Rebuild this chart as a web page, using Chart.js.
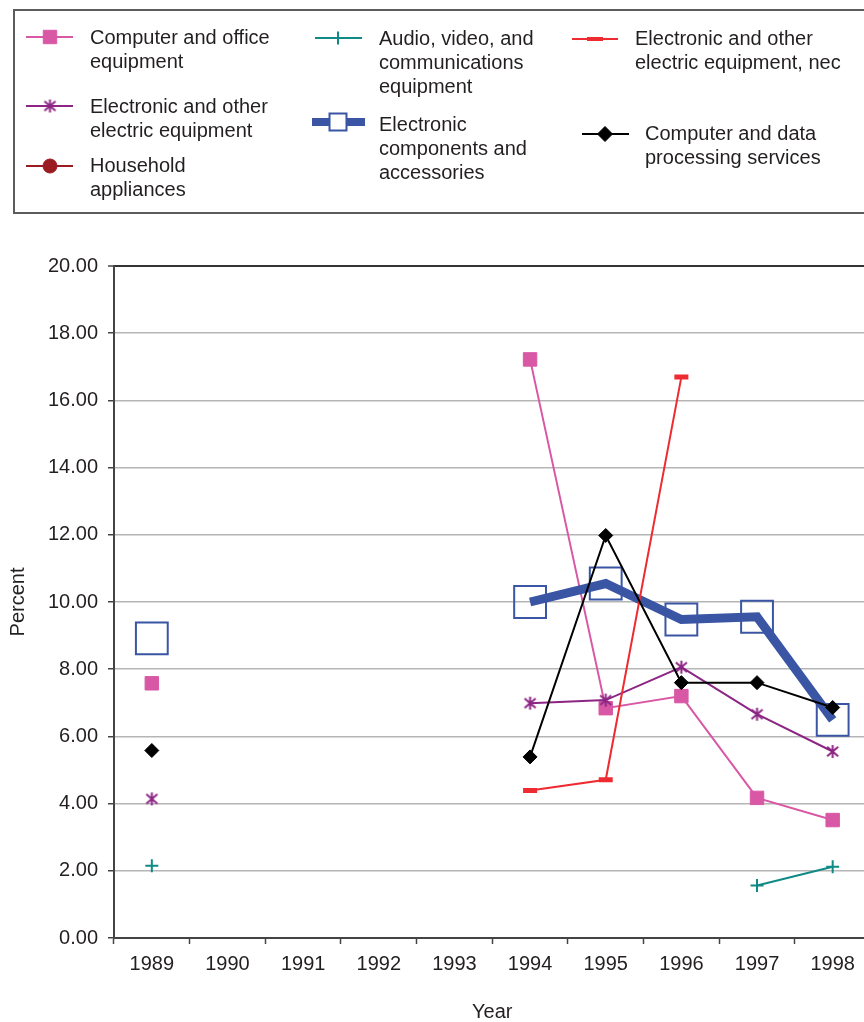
<!DOCTYPE html>
<html>
<head>
<meta charset="utf-8">
<script src="https://cdn.jsdelivr.net/npm/chart.js@4/dist/chart.umd.min.js"></script>
<style>
  html, body { margin: 0; padding: 0; background: #fff; overflow: hidden; width: 864px; height: 1022px; }
  #wrap { position: absolute; left: 0; top: 0; width: 895px; height: 1022px; }
  #legendBox { position: absolute; left: 13px; top: 9px; width: 900px; height: 205px;
               border: 2px solid #5c5c5c; box-sizing: border-box; }
  .lgText { position: absolute; font-family: "Liberation Sans", Arial, sans-serif; font-size: 20px;
            line-height: 24px; color: #231f20; white-space: nowrap; }
  .lgSym { position: absolute; }
</style>
</head>
<body>
<div id="wrap"><canvas id="chart" width="895" height="1022"></canvas></div>
<div id="legendBox"></div>
<div id="legend"></div>
<script>
// Years on the category axis
const years = ['1989', '1990', '1991', '1992', '1993', '1994', '1995', '1996', '1997', '1998'];

// Percent values per industry (null = no value for that year)
const computerOffice   = [7.58, null, null, null, null, 17.22, 6.84, 7.20, 4.17, 3.51];
const electronicOther  = [4.14, null, null, null, null, 6.99, 7.08, 8.06, 6.66, 5.55];
const household        = [null, null, null, null, null, null, null, null, null, null];
const audioVideo       = [2.15, null, null, null, null, null, null, null, 1.56, 2.12];
const components       = [8.92, null, null, null, null, 10.00, 10.55, 9.48, 9.56, 6.49];
const electricNec      = [null, null, null, null, null, 4.39, 4.71, 16.70, null, null];
const dataProcessing   = [5.58, null, null, null, null, 5.39, 11.98, 7.60, 7.60, 6.86];

// Y axis range and tick step
const yMin = 0, yMax = 20, yStep = 2;

const FONT = '"Liberation Sans", Arial, sans-serif';
const TEXT = '#231f20';
const AXIS = '#444444';

// Asterisk marker (vertical stroke plus an X)
function makeAsterisk(color, size, lw) {
  const c = document.createElement('canvas');
  c.width = size; c.height = size;
  const g = c.getContext('2d');
  const m = size / 2, r = size / 2 - 1;
  g.strokeStyle = color; g.lineWidth = lw; g.lineCap = 'butt';
  g.beginPath();
  g.moveTo(m, m - r); g.lineTo(m, m + r);
  const dx = r * 0.85, dy = r * 0.72;
  g.moveTo(m - dx, m - dy); g.lineTo(m + dx, m + dy);
  g.moveTo(m - dx, m + dy); g.lineTo(m + dx, m - dy);
  g.stroke();
  return c;
}

const C_PINK = '#d858a5', C_PURPLE = '#8c2584', C_HOUSE = '#9b1b22', C_TEAL = '#0f8a84',
      C_BLUE = '#3a55a4', C_RED = '#ee2b31', C_BLACK = '#000000';

const asteriskMark = makeAsterisk(C_PURPLE, 15, 2);

const series = [
  { label: 'Computer and office equipment', data: computerOffice, color: C_PINK, width: 2,
    style: 'rect', radius: 9.5, pbw: 1, fill: C_PINK, order: 7 },
  { label: 'Electronic and other electric equipment', data: electronicOther, color: C_PURPLE, width: 2,
    style: asteriskMark, radius: 7, pbw: 0, fill: C_PURPLE, order: 6 },
  { label: 'Household appliances', data: household, color: C_HOUSE, width: 2,
    style: 'circle', radius: 7, pbw: 1, fill: C_HOUSE, order: 5 },
  { label: 'Audio, video, and communications equipment', data: audioVideo, color: C_TEAL, width: 2,
    style: 'cross', radius: 6.5, pbw: 2, fill: C_TEAL, order: 4 },
  { label: 'Electronic components and accessories', data: components, color: C_BLUE, width: 9,
    style: 'rect', radius: 22.5, pbw: 2, fill: 'rgba(0,0,0,0)', order: 3 },
  { label: 'Electronic and other electric equipment, nec', data: electricNec, color: C_RED, width: 2,
    style: 'line', radius: 7, pbw: 5, fill: C_RED, order: 2 },
  { label: 'Computer and data processing services', data: dataProcessing, color: C_BLACK, width: 2,
    style: 'rectRot', radius: 7, pbw: 1, fill: C_BLACK, order: 1 }
];

const datasets = series.map(s => ({
  label: s.label,
  data: s.data,
  borderColor: s.color,
  backgroundColor: s.fill,
  borderWidth: s.width,
  pointStyle: s.style,
  pointRadius: s.radius,
  pointHoverRadius: s.radius,
  pointBorderWidth: s.pbw,
  pointBorderColor: s.color,
  pointBackgroundColor: s.fill,
  borderJoinStyle: 'miter',
  tension: 0,
  spanGaps: false,
  order: s.order
}));

new Chart(document.getElementById('chart'), {
  type: 'line',
  data: { labels: years, datasets },
  options: {
    responsive: false,
    animation: false,
    devicePixelRatio: 1,
    events: [],
    layout: { padding: { left: 0, top: 266, right: 10, bottom: 0 } },
    plugins: { legend: { display: false }, tooltip: { enabled: false } },
    scales: {
      x: {
        type: 'category',
        offset: true,
        afterFit: s => { s.height = 84; s.paddingLeft = 0; s.paddingRight = 0; },
        grid: { offset: true, drawOnChartArea: false, drawTicks: true, tickLength: 6,
                tickColor: AXIS, tickWidth: 1.5 },
        border: { display: true, color: AXIS, width: 2 },
        ticks: { color: TEXT, font: { family: FONT, size: 20 }, padding: 8, maxRotation: 0, autoSkip: false },
        title: { display: true, text: 'Year', color: TEXT,
                 font: { family: FONT, size: 20, lineHeight: 1 }, padding: { top: 0, bottom: 0 } }
      },
      y: {
        min: yMin, max: yMax,
        afterFit: s => { s.width = 114; },
        grid: {
          color: ctx => (ctx.tick && ctx.tick.value === yMax) ? '#333333' : '#b5b5b5',
          lineWidth: ctx => (ctx.tick && ctx.tick.value === yMax) ? 2 : 1.5,
          tickColor: AXIS, tickLength: 6, tickWidth: 1.5, drawTicks: true
        },
        border: { display: true, color: AXIS, width: 2 },
        ticks: { stepSize: yStep, color: TEXT, font: { family: FONT, size: 20 }, padding: 10,
                 callback: v => Number(v).toFixed(2) },
        title: { display: true, text: 'Percent', color: TEXT,
                 font: { family: FONT, size: 20, lineHeight: 1 }, padding: { top: 8, bottom: 0 } }
      }
    }
  }
});

// Legend: three columns of entries with wrapped names
const legendLayout = [
  { i: 0, lines: ['Computer and office', 'equipment'], x1: 26, x2: 73, mx: 50, y: 37, tx: 90, ty: 37 },
  { i: 1, lines: ['Electronic and other', 'electric equipment'], x1: 26, x2: 73, mx: 50, y: 106, tx: 90, ty: 106 },
  { i: 2, lines: ['Household', 'appliances'], x1: 26, x2: 73, mx: 50, y: 166, tx: 90, ty: 165 },
  { i: 3, lines: ['Audio, video, and', 'communications', 'equipment'], x1: 315, x2: 362, mx: 338, y: 38, tx: 379, ty: 38 },
  { i: 4, lines: ['Electronic', 'components and', 'accessories'], x1: 312, x2: 365, mx: 338, y: 122, tx: 379, ty: 124,
    lw: 8, r: 12 },
  { i: 5, lines: ['Electronic and other', 'electric equipment, nec'], x1: 572, x2: 618, mx: 595, y: 39, tx: 635, ty: 38,
    r: 8, pbw: 4 },
  { i: 6, lines: ['Computer and data', 'processing services'], x1: 582, x2: 629, mx: 605, y: 134, tx: 645, ty: 133,
    r: 7.5 }
];

const legendEl = document.getElementById('legend');
legendLayout.forEach(L => {
  const s = series[L.i];
  const pad = 20;
  const w = (L.x2 - L.x1) + pad * 2, h = 50;
  const cv = document.createElement('canvas');
  cv.width = w; cv.height = h; cv.className = 'lgSym';
  cv.style.left = (L.x1 - pad) + 'px';
  cv.style.top = (L.y - h / 2) + 'px';
  const g = cv.getContext('2d');
  const cy = h / 2;
  g.strokeStyle = s.color;
  g.lineWidth = L.lw || s.width;
  g.beginPath(); g.moveTo(pad, cy); g.lineTo(pad + (L.x2 - L.x1), cy); g.stroke();
  g.fillStyle = (L.i === 4) ? '#ffffff' : s.fill;
  g.strokeStyle = s.color;
  g.lineWidth = L.pbw || s.pbw;
  Chart.helpers.drawPoint(g, { pointStyle: s.style, radius: L.r || s.radius, rotation: 0,
                               borderWidth: L.pbw || s.pbw }, pad + (L.mx - L.x1), cy);
  legendEl.appendChild(cv);

  const t = document.createElement('div');
  t.className = 'lgText';
  t.style.left = L.tx + 'px';
  t.style.top = (L.ty - 12) + 'px';
  t.innerHTML = L.lines.join('<br>');
  legendEl.appendChild(t);
});
</script>
</body>
</html>
